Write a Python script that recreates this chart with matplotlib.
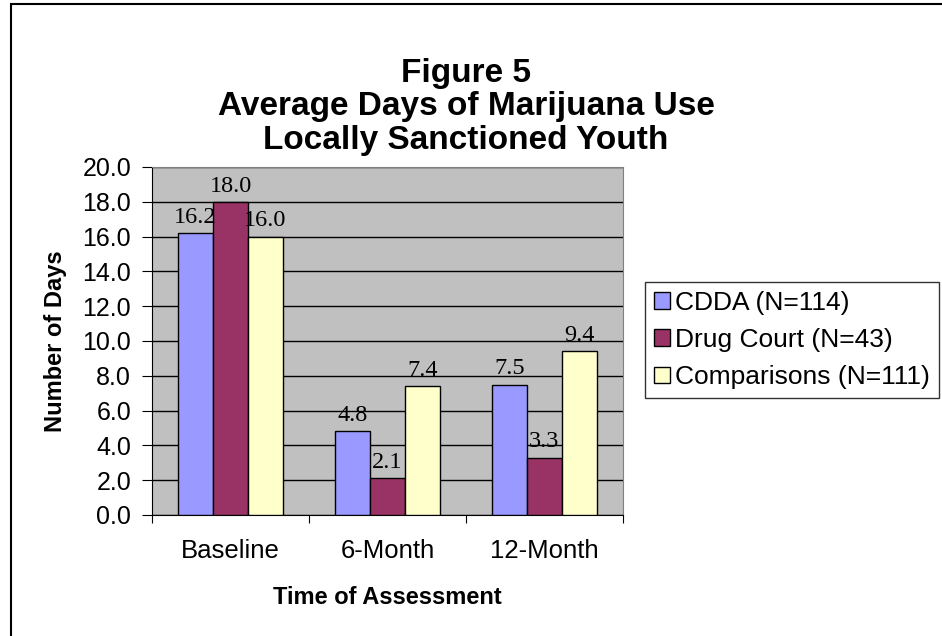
import matplotlib

matplotlib.use("Agg")
import matplotlib.pyplot as plt
import numpy as np
from matplotlib.patches import Rectangle

plt.rcParams["font.family"] = ["Liberation Sans", "DejaVu Sans"]

# ---------------------------------------------------------------------------
# data
# ---------------------------------------------------------------------------
categories = ["Baseline", "6-Month", "12-Month"]
series_names = ["CDDA (N=114)", "Drug Court (N=43)", "Comparisons (N=111)"]
cdda = [16.2, 4.8, 7.5]
drug_court = [18.0, 2.1, 3.3]
comparisons = [16.0, 7.4, 9.4]
y_ticks = [0, 2, 4, 6, 8, 10, 12, 14, 16, 18, 20]

colors = ["#9999ff", "#993366", "#ffffcc"]

fig = plt.figure(figsize=(9.42, 6.36), dpi=100, facecolor="white")

# outer chart frame (runs off the right/bottom edges)
fig.patches.append(
    Rectangle((11 / 942, -0.05), 1.0, 1.05 - 4 / 636,
              transform=fig.transFigure, fill=False, edgecolor="black", linewidth=1.5)
)

ax = fig.add_axes([152 / 942, 1 - 515 / 636, (623 - 152) / 942, (515 - 167) / 636])
ax.set_facecolor("#c0c0c0")

x = np.arange(len(categories))
width = 0.222
for k, (vals, name) in enumerate(zip([cdda, drug_court, comparisons], series_names)):
    pos = x + (k - 1) * width
    ax.bar(pos, vals, width, color=colors[k], edgecolor="black", linewidth=1.0,
           label=name, zorder=3)
    for px, v in zip(pos, vals):
        ax.text(px, v + 0.3, f"{v:.1f}", ha="center", va="bottom",
                fontsize=17.5, family=["Liberation Serif", "DejaVu Serif"], zorder=4)

ax.set_xlim(-0.5, len(categories) - 0.5)
ax.set_ylim(0, 20)
ax.set_yticks(y_ticks)
ax.set_yticklabels([f"{t:.1f}" for t in y_ticks], fontsize=18)
ax.yaxis.grid(True, color="black", linewidth=1.0, zorder=1)
ax.set_axisbelow(True)

ax.set_xticks(np.arange(len(categories) + 1) - 0.5)
ax.set_xticklabels([])
ax.set_xticks(x, minor=True)
ax.set_xticklabels(categories, minor=True, fontsize=18.5)
ax.tick_params(axis="x", which="minor", length=0, pad=17)
ax.tick_params(axis="x", which="major", direction="out", length=6, color="black")
ax.tick_params(axis="y", direction="out", length=7, pad=8)

for side in ["top", "right"]:
    ax.spines[side].set_color("#808080")
ax.spines["left"].set_color("black")
ax.spines["bottom"].set_color("black")

ax.set_ylabel("Number of Days", fontsize=17, fontweight="bold", labelpad=11)
ax.set_xlabel("Time of Assessment", fontsize=17, fontweight="bold", labelpad=17)

fig.text(466 / 942, 1 - 107 / 636, "Figure 5\nAverage Days of Marijuana Use\nLocally Sanctioned Youth",
         ha="center", va="center", fontsize=24, fontweight="bold", linespacing=1.12)

leg = ax.legend(loc="center left", bbox_to_anchor=(645 / 942, 1 - 340 / 636),
                bbox_transform=fig.transFigure, fontsize=19, frameon=True, fancybox=False,
                edgecolor="black", handlelength=0.6, handleheight=0.6, handletextpad=0.2,
                borderpad=0.35, labelspacing=0.5, borderaxespad=0)
leg.get_frame().set_linewidth(1.0)

fig.savefig("out.png", dpi=100, facecolor="white")
